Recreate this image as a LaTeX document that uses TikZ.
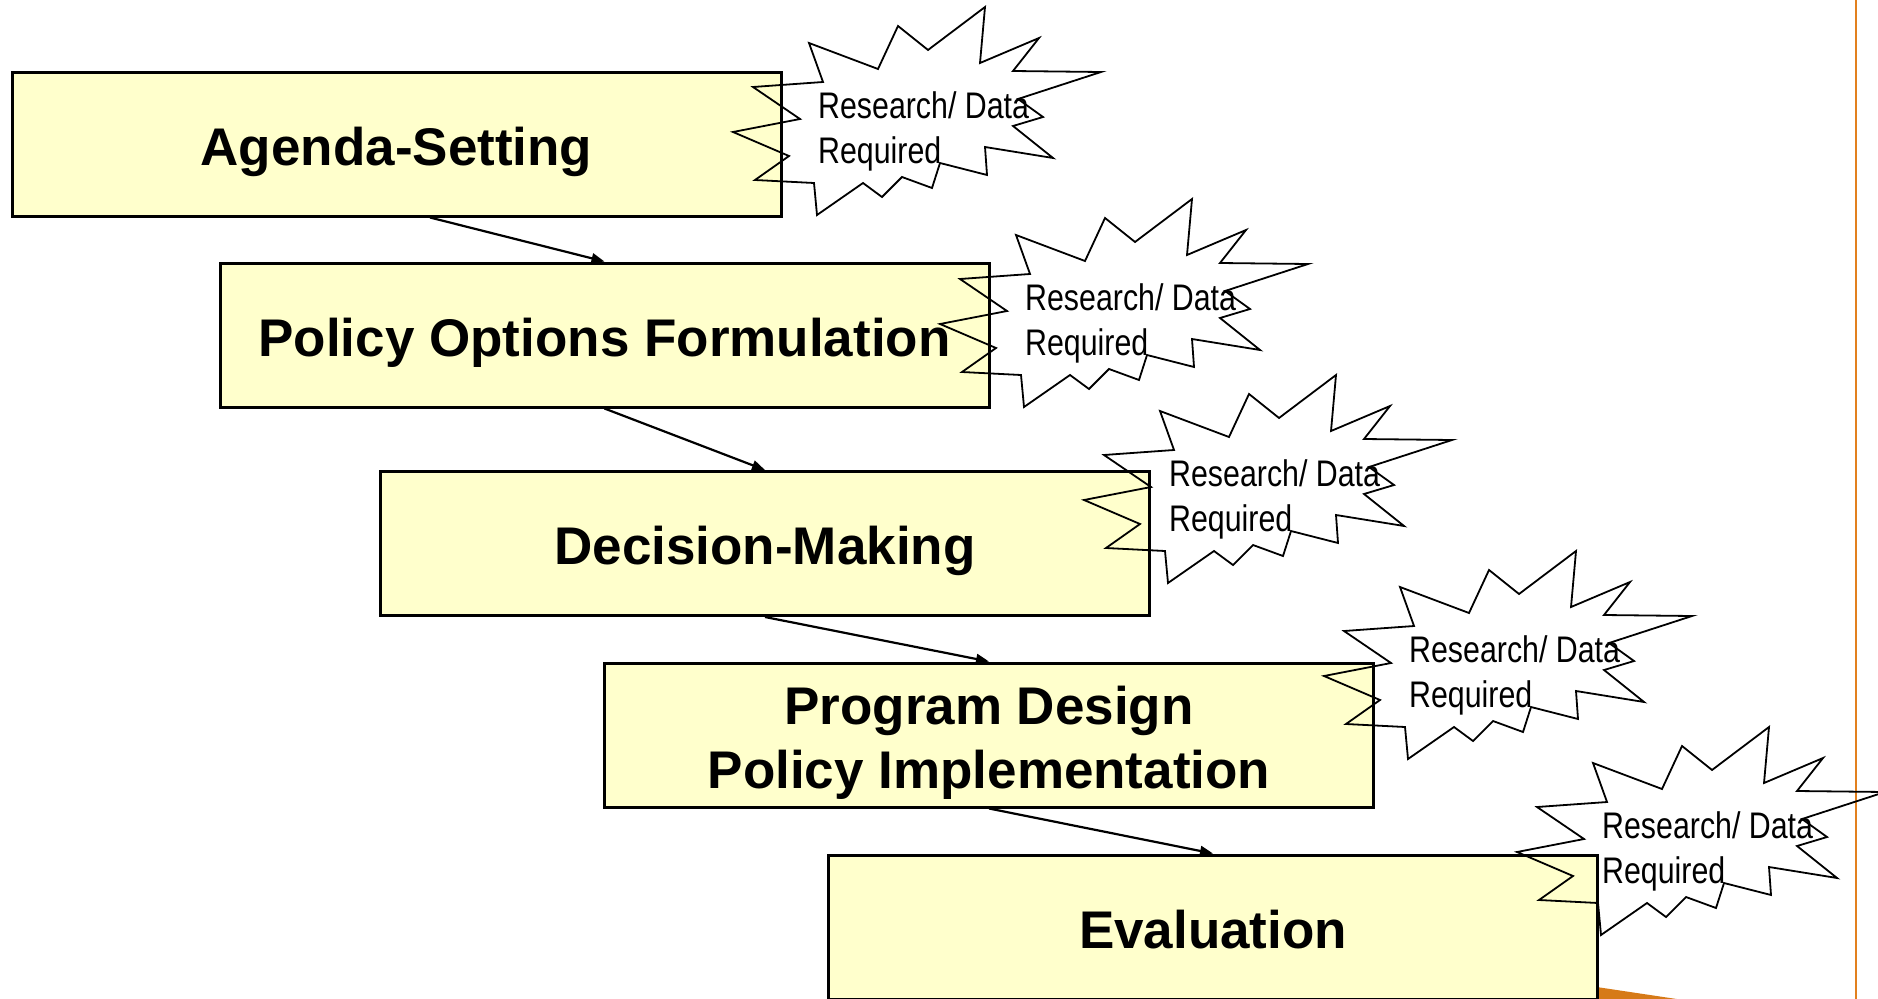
\documentclass[tikz,border=0pt]{standalone}
\usepackage{fontspec}
\usetikzlibrary{arrows.meta,calc}
\newfontfamily\boxfont{Liberation Sans}
\newfontfamily\burstfont[FakeStretch=0.82]{Liberation Sans}
\definecolor{stagefill}{RGB}{255,255,204}
\definecolor{rimorange}{RGB}{226,128,30}
\definecolor{wedgeorange}{RGB}{214,122,24}
% stage caption: centred lines, lowered a little while keeping the box size
\newcommand\stagetext[1]{\raisebox{-8.5pt}[\height][\depth]{\begin{tabular}{@{}c@{}}#1\end{tabular}}}
\begin{document}
\begin{tikzpicture}[x=1pt,y=-1pt,
  stage/.style={draw=black, line width=3pt, fill=stagefill,
    minimum width=769pt, minimum height=144pt, inner sep=0pt, align=center,
    font=\boxfont\bfseries\fontsize{53}{64}\selectfont},
  flow/.style={line width=2.2pt, -{Triangle[length=13pt,width=10pt]}},
  burstline/.style={line width=1.8pt, line join=miter},
  bursttext/.style={anchor=base west, inner sep=0pt, align=left,
    font=\burstfont\fontsize{37}{45}\selectfont},
  pics/burst/.style={code={
    \draw[burstline] (753,87) -- (823,82) -- (809,43) -- (878,69) -- (898,26)
      -- (928,50) -- (985,7) -- (980,63) -- (1039,38) -- (1013,71) -- (1101,72)
      -- (1018,99) -- (1043,117) -- (1013,126) -- (1053,158) -- (985,147)
      -- (987,175) -- (940,163) -- (932,188) -- (902,177) -- (882,197)
      -- (863,183) -- (817,215) -- (814,183) -- (755,180) -- (789,156)
      -- (733,132) -- (800,119) -- cycle;
    % the base anchor of a two-line node sits on its last line
    \node[bursttext] (-txt) at (818,163) {Research/ Data\\Required};
  }}
]
\useasboundingbox (0,0) rectangle (1878,998);
\clip (0,0) rectangle (1878,998);

% orange page trim
\fill[wedgeorange] (1540,978.5) -- (1690,1001) -- (1540,1001) -- cycle;
\draw[rimorange, line width=2.5pt] (1856,-2) -- (1856,1000);

% policy stages
\node[stage] (b1) at (396.5,144) {\stagetext{Agenda-Setting}};
\node[stage] (b2) at (604.5,335) {\stagetext{Policy Options Formulation}};
\node[stage] (b3) at (765,543.5) {\stagetext{Decision-Making}};
\node[stage] (b4) at (989,735) {\stagetext{Program Design\\Policy Implementation}};
\node[stage] (b5) at (1213,927) {\stagetext{Evaluation}};

% flow between stages
\draw[flow] ($(b1.south)+(33.5,0)$) -- (b2.north);
\draw[flow] (b2.south) -- (b3.north);
\draw[flow] (b3.south) -- (b4.north);
\draw[flow] (b4.south) -- (b5.north);

% research call-outs
\pic (r1) at (0,0) {burst};
\pic (r2) at (207,192) {burst};
\pic (r3) at (351,368) {burst};
\pic (r4) at (591,544) {burst};
\pic (r5) at (784,720) {burst};
\end{tikzpicture}
\end{document}
